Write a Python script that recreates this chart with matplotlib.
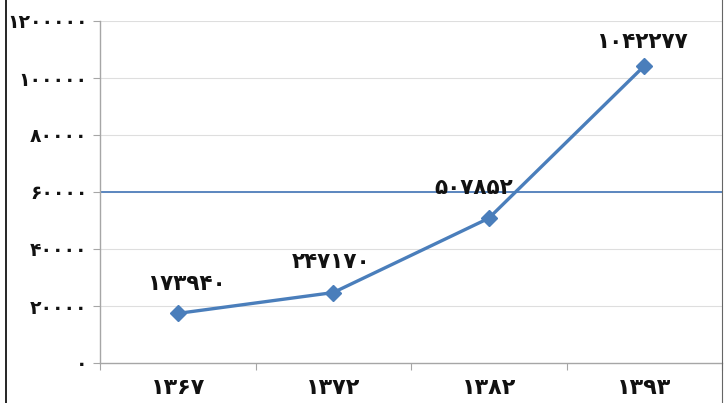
import matplotlib
matplotlib.use("Agg")
import matplotlib.pyplot as plt
from matplotlib.lines import Line2D

# Years (Persian calendar) and values
years = ["۱۳۶۷", "۱۳۷۲", "۱۳۸۲", "۱۳۹۳"]
values = [173940, 247170, 507852, 1042277]
value_labels = ["۱۷۳۹۴۰", "۲۴۷۱۷۰", "۵۰۷۸۵۲", "۱۰۴۲۲۷۷"]

y_ticks = [0, 200000, 400000, 600000, 800000, 1000000, 1200000]
y_tick_labels = ["۰", "۲۰۰۰۰", "۴۰۰۰۰", "۶۰۰۰۰", "۸۰۰۰۰", "۱۰۰۰۰۰", "۱۲۰۰۰۰۰"]
ref_level = 600000

plt.rcParams['font.family'] = ['DejaVu Sans']

fig = plt.figure(figsize=(7.24, 4.03), dpi=100)
ax = fig.add_axes([100 / 724, 1 - 363 / 403, 622 / 724, (363 - 21) / 403])

line_blue = "#4a7ebb"
x = list(range(len(years)))

ax.set_xlim(-0.5, len(years) - 0.5)
ax.set_ylim(0, 1200000)

# light horizontal gridlines
for t in y_ticks[1:]:
    ax.axhline(t, color="#dedede", lw=0.8, zorder=1)
# highlighted reference level
ax.axhline(ref_level, color="#5b86bf", lw=1.4, zorder=2)

ax.plot(x, values, color=line_blue, lw=2.4, marker="D", markersize=8,
        markerfacecolor=line_blue, markeredgecolor=line_blue, zorder=3)

# value labels above points (offsets in points)
offsets = [(6, 21.5), (-1.5, 22), (-11, 21.5), (-2, 17.5)]
for xi, v, lab, (dx, dy) in zip(x, values, value_labels, offsets):
    ax.annotate(lab, (xi, v), xytext=(dx, dy), textcoords="offset points",
                ha="center", va="center", fontsize=15.5, fontweight="bold",
                color="#111111")

ax.set_yticks(y_ticks)
ax.set_yticklabels(y_tick_labels, fontsize=13.5, fontweight="bold", color="#111111")
ax.set_xticks(x)
ax.set_xticklabels(years, fontsize=16, fontweight="bold", color="#111111")
ax.tick_params(axis="x", length=0, pad=11)
ax.tick_params(axis="y", length=5, width=0.8, color="#a6a6a6", pad=4)

# category boundary ticks on the x axis
ax.set_xticks([-0.5, 0.5, 1.5, 2.5, 3.5], minor=True)
ax.tick_params(axis="x", which="minor", length=5, width=0.8, color="#a6a6a6")

for s in ("top", "right"):
    ax.spines[s].set_visible(False)
for s in ("left", "bottom"):
    ax.spines[s].set_color("#a6a6a6")
    ax.spines[s].set_linewidth(1.0)

# outer frame edges
fig.add_artist(Line2D([5.5 / 724, 5.5 / 724], [0, 1], color="black", lw=1.2,
                      transform=fig.transFigure))
fig.add_artist(Line2D([721.5 / 724, 721.5 / 724], [0, 1], color="#666666", lw=0.8,
                      transform=fig.transFigure))

fig.savefig("out.png", dpi=100)
